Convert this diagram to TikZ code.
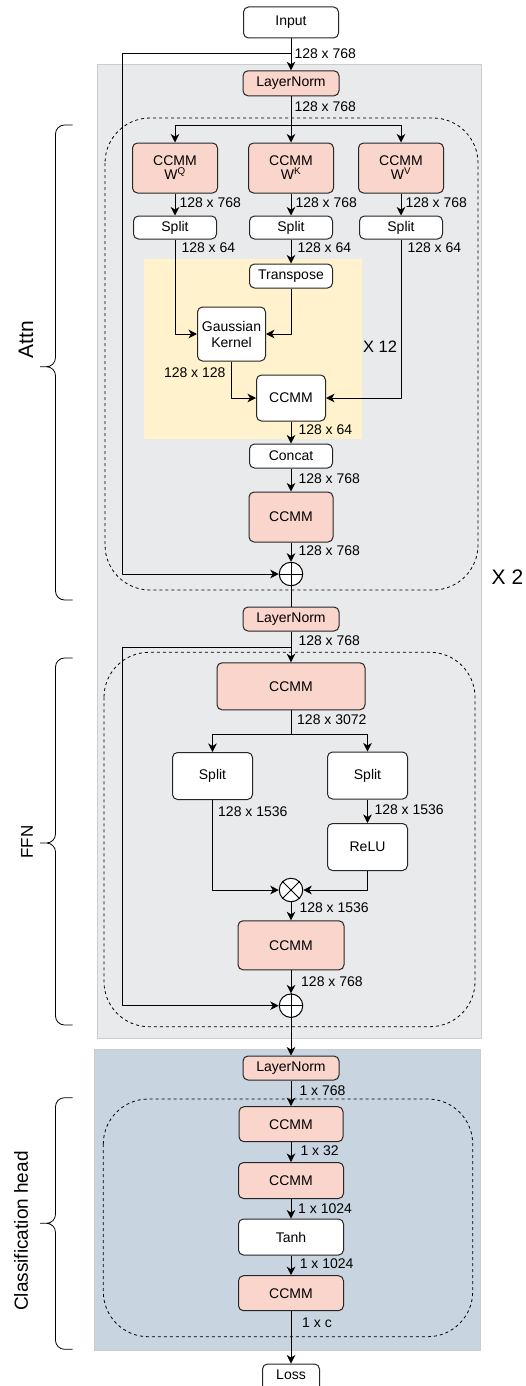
\documentclass[tikz,border=0pt]{standalone}
\usepackage{fontspec}
\setmainfont{Liberation Sans}
\usetikzlibrary{arrows.meta}
\definecolor{salmon}{RGB}{250,213,204}
\definecolor{panelgray}{RGB}{233,234,236}
\definecolor{panelblue}{RGB}{200,212,224}
\definecolor{kernelyellow}{RGB}{255,242,204}
\tikzset{
	box/.style={draw=black!85, rounded corners=5pt, fill=white, inner sep=0pt, align=center},
	ccmm/.style={box, fill=salmon},
	op/.style={draw, circle, fill=white, minimum size=23.5pt, inner sep=0pt},
	dim/.style={anchor=west, inner sep=0pt},
	grp/.style={dash pattern=on 3pt off 3pt, rounded corners=45pt, line width=0.8pt},
	side/.style={rotate=90, inner sep=0pt},
}
\begin{document}
\begin{tikzpicture}[x=1pt, y=-1pt, font=\fontsize{14}{16}\selectfont, line join=round, line width=1pt, >={Stealth[length=8.5pt,width=8.5pt,inset=2.5pt]}]
	\useasboundingbox (0,0) rectangle (525,1386);
	% panels
	\filldraw[fill=panelgray, draw=black!20] (97,65) rectangle (481.7,1038);
	\filldraw[fill=panelblue, draw=black!20] (94.3,1049.3) rectangle (480,1350);
	\fill[kernelyellow] (144,259.3) rectangle (361.7,439);
	\draw[grp] (105,118) rectangle (478,590);
	\draw[grp] (104,652.3) rectangle (475,1026.7);
	\draw[grp] (103.3,1099) rectangle (472.7,1336.7);
	% attention block
	\node[box, minimum width=95pt, minimum height=31pt] (in) at (291,22.5) {Input};
	\node[ccmm, minimum width=96pt, minimum height=25pt] (ln1) at (291,83.3) {LayerNorm};
	\path (291,54) coordinate(s1) (122,54) coordinate(k1) (291,126) coordinate(b1);
	\draw[->] (in) -- (ln1);
	\draw (ln1) -- (b1);
	\foreach \n/\x/\s in {q/175/Q, k/291/K, v/401/V}{
		\node[ccmm, minimum width=85pt, minimum height=50pt] (w\n) at (\x,168) {CCMM\\[-2pt]W\textsuperscript{\s}};
		\node[box, minimum width=83pt, minimum height=23pt] (s\n) at (\x,227.5) {Split};
		\draw[->] (b1) -| (w\n);
		\draw[->] (w\n) -- (s\n);
		\node[dim] at (\x+4,203) {128 x 768};
		\node[dim] at (\x+6,248) {128 x 64};
	}
	\node[box, minimum width=83pt, minimum height=24pt] (tr) at (291,276) {Transpose};
	\node[box, minimum width=68pt, minimum height=54pt] (gk) at (231.5,334) {Gaussian\\Kernel};
	\node[box, minimum width=69pt, minimum height=46pt] (cm) at (291,398) {CCMM};
	\node[box, minimum width=83pt, minimum height=24pt] (cc) at (291,456) {Concat};
	\node[ccmm, minimum width=84pt, minimum height=50pt] (co) at (291,517) {CCMM};
	\node[op] (p1) at (291,574) {};
	\draw[->] (sk) -- (tr);
	\draw[->] (sq) |- (gk);
	\draw[->] (tr) |- (gk);
	\draw[->] (gk) |- (cm);
	\draw[->] (sv) |- (cm);
	\draw[->] (cm) -- (cc);
	\draw[->] (cc) -- (co);
	\draw[->] (co) -- (p1);
	\draw[->] (s1) -- (k1) |- (p1.west);
	\draw (p1.north) -- (p1.south) (p1.west) -- (p1.east);
	% feed forward block
	\node[ccmm, minimum width=96pt, minimum height=24pt] (ln2) at (291,619) {LayerNorm};
	\node[ccmm, minimum width=148pt, minimum height=47pt] (f1) at (291,686.3) {CCMM};
	\node[box, minimum width=80pt, minimum height=47pt] (spl) at (212.5,776) {Split};
	\node[box, minimum width=80pt, minimum height=47pt] (spr) at (367.5,775.5) {Split};
	\node[box, minimum width=80pt, minimum height=47pt] (relu) at (367.5,847) {ReLU};
	\node[op] (m1) at (291,890) {};
	\node[ccmm, minimum width=106pt, minimum height=49pt] (f2) at (291,945.3) {CCMM};
	\node[op] (p2) at (291,1005.7) {};
	\path (291,647) coordinate(s2) (122,647) coordinate(k2) (291,734.3) coordinate(b2);
	\draw (p1) -- (ln2);
	\draw[->] (ln2) -- (f1);
	\draw[->] (s2) -- (k2) |- (p2.west);
	\draw (f1) -- (b2);
	\draw[->] (b2) -| (spl);
	\draw[->] (b2) -| (spr);
	\draw[->] (spl) |- (m1);
	\draw[->] (spr) -- (relu);
	\draw[->] (relu) |- (m1);
	\draw (m1.north west) -- (m1.south east) (m1.north east) -- (m1.south west);
	\draw[->] (m1) -- (f2);
	\draw[->] (f2) -- (p2);
	\draw (p2.north) -- (p2.south) (p2.west) -- (p2.east);
	% classification head
	\node[ccmm, minimum width=96pt, minimum height=24pt] (ln3) at (291,1068) {LayerNorm};
	\node[ccmm, minimum width=104pt, minimum height=35pt] (h1) at (291,1124.2) {CCMM};
	\node[ccmm, minimum width=105pt, minimum height=36pt] (h2) at (291,1180.5) {CCMM};
	\node[box, minimum width=105pt, minimum height=36pt] (th) at (291,1237) {Tanh};
	\node[ccmm, minimum width=105pt, minimum height=35pt] (h3) at (291,1293.2) {CCMM};
	\node[box, minimum width=57pt, minimum height=32pt, text depth=10pt] (loss) at (291,1380) {Loss};
	\draw[->] (p2) -- (ln3);
	\foreach \a/\b in {ln3/h1, h1/h2, h2/th, th/h3, h3/loss}\draw[->] (\a) -- (\b);
	% sizes
	\foreach \x/\y/\t in {294/54/128 x 768, 294/107/128 x 768, 298/430/128 x 64, 298/479/128 x 768, 298/551/128 x 768,
		298/641/128 x 768, 296.7/720/128 x 3072, 217.7/811.7/128 x 1536, 374/810/128 x 1536, 299/907.3/128 x 1536,
		300.7/981.7/128 x 768, 299/1090.7/1 x 768, 300/1150.7/1 x 32, 297.7/1209/1 x 1024, 299.3/1263.3/1 x 1024,
		301.7/1322.7/1 x c}
		\node[dim] at (\x,\y) {\t};
	\node[anchor=east, inner sep=0pt] at (226,372.7) {128 x 128};
	\node[font=\fontsize{16.5}{18}\selectfont] at (380,347) {X 12};
	\node[font=\fontsize{21}{24}\selectfont] at (507.5,576.7) {X 2};
	% braces
	\foreach \t/\m/\b in {125/366.7/600, 658/843/1025, 1097.7/1223.3/1349.3}
		\draw[line width=0.8pt, rounded corners=9pt] (72.7,\t) -- (55.5,\t) -- (55.5,\m) -- (40,\m) (72.7,\b) -- (55.5,\b) -- (55.5,\m) -- (40,\m);
	\node[side, font=\fontsize{21}{24}\selectfont] at (26,340) {Attn};
	\node[side, font=\fontsize{17}{20}\selectfont] at (27,842) {FFN};
	\node[side, font=\fontsize{19}{22}\selectfont] at (21,1231) {Classification head};
\end{tikzpicture}
\end{document}
